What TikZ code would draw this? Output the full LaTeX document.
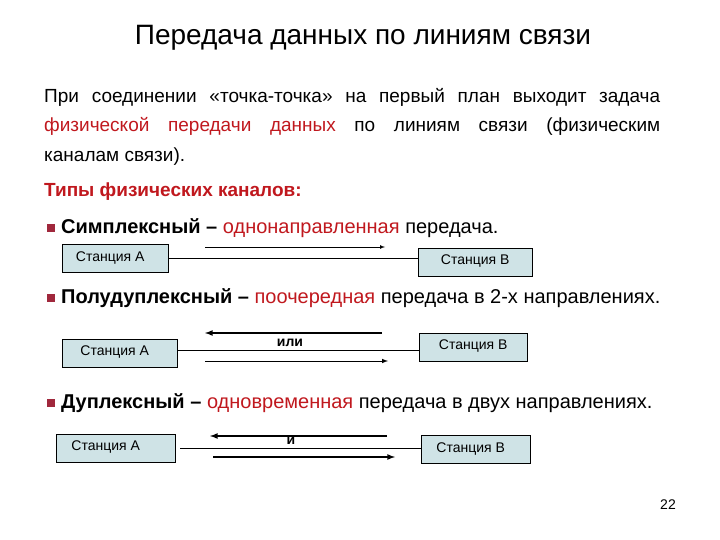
\documentclass[tikz,border=0pt]{standalone}
\usepackage{fontspec}
\setmainfont{Liberation Sans}
\begin{document}
\begin{tikzpicture}[x=1pt,y=-1pt,
  st/.style={draw,fill=boxfill,minimum height=28pt,inner sep=0pt,font=\fontsize{14}{16}\selectfont,anchor=north west},
  con/.style={line width=0.7pt},
  arr/.style={-latex,line width=1pt},
  bul/.style={fill=bulred,minimum size=8pt,inner sep=0pt},
  txt/.style={anchor=west,font=\fontsize{20}{22}\selectfont,inner sep=0pt}]
\definecolor{boxfill}{HTML}{CFE3E6}
\definecolor{bulred}{HTML}{A0283C}
\definecolor{tred}{HTML}{C0181E}
\useasboundingbox (0,0) rectangle (720,540);
\node[font=\fontsize{28}{32}\selectfont] (title) at (363,38) {Передача данных по линиям связи};
\node[txt,text width=616pt,align=justify,anchor=north west,font=\fontsize{19}{29.5}\selectfont] (par) at (44,88)
 {При соединении «точка-точка» на первый план выходит задача \textcolor{tred}{физической передачи данных} по линиям связи (физическим\linebreak каналам связи).};
\node[txt,text=tred,font=\fontsize{19}{22}\selectfont\bfseries] (types) at (44,192) {Типы физических каналов:};
% bullet 1
\node[bul] (b1) at (51,228) {};
\node[txt] (t1) at (61,228) {\textbf{Симплексный –} \textcolor{tred}{однонаправленная} передача.};
\node[st,minimum width=106pt] (a1) at (62,244) {\raisebox{-3pt}{Станция А}\hspace*{10pt}};
\node[st,minimum width=114pt] (c1) at (418,248) {\raisebox{6pt}{Станция В}};
\draw[con] (a1.east) -- (a1.east -| c1.west);
\coordinate (p1) at (205,247); \coordinate (q1) at (385,247);
\draw[arr,line width=0.7pt] (p1) -- (q1);
% bullet 2
\node[bul] (b2) at (51,298) {};
\node[txt] (t2) at (61,298) {\textbf{Полудуплексный –} \textcolor{tred}{поочередная} передача в 2-х направлениях.};
\node[st,minimum width=115pt] (a2) at (62,339) {\raisebox{5pt}{Станция А}\hspace*{10pt}};
\node[st,minimum width=108pt] (c2) at (419,333) {\raisebox{6pt}{Станция В}};
\coordinate (m2) at (177,350);
\draw[con] (m2) -- (m2 -| c2.west);
\coordinate (p2) at (382,333); \coordinate (q2) at (205,333);
\draw[arr,line width=1.6pt] (p2) -- (q2);
\node[font=\fontsize{14}{16}\selectfont\bfseries] (or) at (290,343) {или};
\coordinate (p3) at (205,361); \coordinate (q3) at (388,361);
\draw[arr] (p3) -- (q3);
% bullet 3
\node[bul] (b3) at (51,403) {};
\node[txt] (t3) at (61,403) {\textbf{Дуплексный –} \textcolor{tred}{одновременная} передача в двух направлениях.};
\node[st,minimum width=119pt] (a3) at (56,434) {\raisebox{6pt}{Станция А}\hspace*{20pt}};
\node[st,minimum width=109pt] (c3) at (421,435) {\raisebox{-4pt}{\hspace*{-10pt}Станция В}};
\coordinate (m3) at (180,448);
\draw[con] (m3) -- (m3 -| c3.west);
\coordinate (p4) at (387,436); \coordinate (q4) at (210,436);
\draw[arr,line width=1.6pt] (p4) -- (q4);
\node[font=\fontsize{14}{16}\selectfont\bfseries] (and) at (291,441) {и};
\coordinate (p5) at (213,457); \coordinate (q5) at (395,457);
\draw[arr,line width=1.6pt] (p5) -- (q5);
\node[font=\fontsize{14}{16}\selectfont] (num) at (668,505) {22};
\end{tikzpicture}
\end{document}
